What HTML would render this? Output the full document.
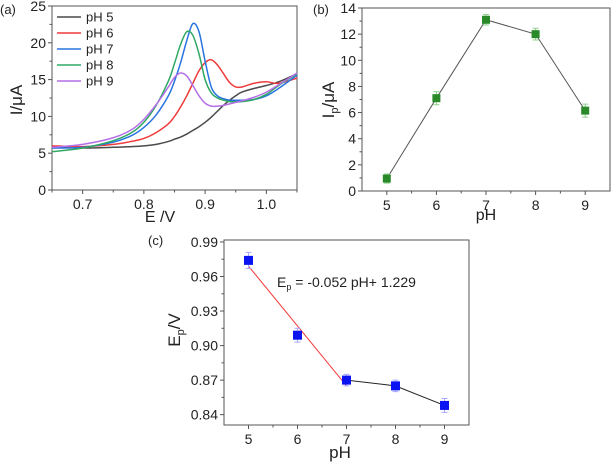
<!DOCTYPE html>
<html><head><meta charset="utf-8"><style>
html,body{margin:0;padding:0;background:#fff;}
svg{display:block;font-family:"Liberation Sans",Arial,sans-serif;}
</style></head><body>
<svg id="fig" width="615" height="463" viewBox="0 0 615 463" xmlns="http://www.w3.org/2000/svg"></svg>
<script>
// ---- Panel (a) data ----
const aPotential = [0.65,0.70,0.75,0.78,0.80,0.82,0.84,0.85,0.86,0.87,0.88,0.89,0.90,0.91,0.92,0.93,0.94,0.95,0.96,0.98,1.00,1.02,1.05];
const aPH5 = [5.8,5.7,5.8,5.9,6.0,6.2,6.6,6.9,7.2,7.6,8.1,8.6,9.2,9.9,10.7,11.5,12.2,12.8,13.3,13.8,14.2,14.7,15.8];
const aPH6 = [6.0,5.9,6.2,6.6,7.0,7.8,9.0,10.0,11.3,12.8,14.5,16.2,17.3,17.7,17.0,15.8,14.6,14.0,14.0,14.5,14.7,14.5,15.2];
const aPH7 = [5.7,5.8,6.5,7.4,8.5,10.2,12.8,14.8,17.3,20.3,22.6,21.5,17.5,14.0,12.8,12.4,12.2,12.2,12.2,12.3,12.8,13.8,15.6];
const aPH8 = [5.2,5.7,6.7,7.8,9.2,11.5,14.8,17.2,19.8,21.5,21.0,18.5,15.0,13.2,12.5,12.2,12.0,12.0,12.0,12.3,13.0,14.2,15.8];
const aPH9 = [5.8,6.2,7.1,8.2,9.6,11.6,14.0,15.3,15.9,15.5,14.2,12.8,11.8,11.4,11.4,11.5,11.7,11.9,12.1,12.6,13.3,14.3,15.9];
const aLegend = ["pH 5","pH 6","pH 7","pH 8","pH 9"];
const aXTicks = [0.7,0.8,0.9,1.0];
const aYTicks = [0,5,10,15,20,25];
// ---- Panel (b) data ----
const bPH = [5,6,7,8,9];
const bIp = [0.95,7.1,13.1,12.0,6.15];
const bErr = [0.35,0.5,0.4,0.45,0.5];
const bYTicks = [0,2,4,6,8,10,12,14];
// ---- Panel (c) data ----
const cPH = [5,6,7,8,9];
const cEp = [0.974,0.909,0.870,0.865,0.848];
const cErr = [0.007,0.006,0.005,0.005,0.006];
const cFitPH = [5,7];
const cSlope = -0.052, cIntercept = 1.229;
const cYTicks = [0.84,0.87,0.90,0.93,0.96,0.99];
const pHTicks = [5,6,7,8,9];

const NS="http://www.w3.org/2000/svg";
const svg=document.getElementById('fig');
function mk(tag,attrs,parent){const e=document.createElementNS(NS,tag);for(const k in attrs)e.setAttribute(k,attrs[k]);(parent||svg).appendChild(e);return e;}
function lin(d0,d1,r0,r1){return v=>r0+(v-d0)/(d1-d0)*(r1-r0);}
function fmt(v,dp){return v.toFixed(dp);}

function axes(g,box,xs,ys,xt,yt,xdp,ydp,xminor,yminor){
  const r=mk('rect',{x:box.l,y:box.t,width:box.r-box.l,height:box.b-box.t,fill:'none',stroke:'#555','stroke-width':1},g);
  
  const xa=mk('g',{},g);
  xt.forEach(v=>{const x=xs(v);
    mk('line',{x1:x,x2:x,y1:box.b,y2:box.b+4,stroke:'#555'},xa);
    const t=mk('text',{x:x,y:box.b+19,'font-size':14,'text-anchor':'middle',fill:'#222'},xa);t.textContent=fmt(v,xdp);
    });
  xminor.forEach(v=>{const x=xs(v);mk('line',{x1:x,x2:x,y1:box.b,y2:box.b+2.5,stroke:'#555'},xa);});
  const ya=mk('g',{},g);
  yt.forEach(v=>{const y=ys(v);
    mk('line',{x1:box.l-4,x2:box.l,y1:y,y2:y,stroke:'#555'},ya);
    const t=mk('text',{x:box.l-6,y:y+5,'font-size':14,'text-anchor':'end',fill:'#222'},ya);t.textContent=fmt(v,ydp);
    });
  yminor.forEach(v=>{const y=ys(v);mk('line',{x1:box.l-2.5,x2:box.l,y1:y,y2:y,stroke:'#555'},ya);});
}
function smoothPath(pts){
  let d=`M${pts[0][0]},${pts[0][1]}`;
  for(let i=0;i<pts.length-1;i++){
    const p0=pts[Math.max(0,i-1)],p1=pts[i],p2=pts[i+1],p3=pts[Math.min(pts.length-1,i+2)];
    const c1=[p1[0]+(p2[0]-p0[0])/6,p1[1]+(p2[1]-p0[1])/6];
    const c2=[p2[0]-(p3[0]-p1[0])/6,p2[1]-(p3[1]-p1[1])/6];
    d+=` C${c1[0]},${c1[1]} ${c2[0]},${c2[1]} ${p2[0]},${p2[1]}`;
  }
  return d;
}
function label(txt,x,y,size,name,extra){const t=mk('text',Object.assign({x:x,y:y,'font-size':size,fill:'#222'},extra||{}));t.innerHTML=txt;return t;}

// ===== Panel a =====
(function(){
  const g=mk('g',{});
  const box={l:52,r:297,t:6,b:190};
  const xs=lin(0.65,1.05,box.l,box.r), ys=lin(0,25,box.b,box.t);
  axes(g,box,xs,ys,aXTicks,aYTicks,1,0,[0.65,0.75,0.85,0.95,1.05],[2.5,7.5,12.5,17.5,22.5]);
  const series=[aPH5,aPH6,aPH7,aPH8,aPH9];
  const colors=['#4a4a4a','#f03a3a','#2874e0','#2fa864','#b46fe6'];
  const names=['curve-ph5','curve-ph6','curve-ph7','curve-ph8','curve-ph9'];
  series.forEach((s,i)=>{
    const p=mk('path',{d:smoothPath(aPotential.map((v,j)=>[xs(v),ys(s[j])])),fill:'none',stroke:colors[i],'stroke-width':1.5},g);
    
  });
  const lg=mk('g',{},g);
  aLegend.forEach((n,i)=>{
    const y=17+i*16;
    const e=mk('g',{},lg);
    mk('line',{x1:57,x2:81,y1:y,y2:y,stroke:colors[i],'stroke-width':1.5},e);
    const t=mk('text',{x:86,y:y+4.5,'font-size':13,fill:'#222'},e);t.textContent=n;
  });
  label('(a)',0,14,13,'panel-a-label');
  label('E /V',160,222,16,'x-axis-title',{'text-anchor':'middle'});
  label('I/μA',22,100,17,'y-axis-title',{'text-anchor':'middle',transform:'rotate(-90 22 100)'});
})();

// ===== Panel b =====
(function(){
  const g=mk('g',{});
  const box={l:362,r:610,t:8,b:191};
  const xs=lin(4.5,9.5,box.l,box.r), ys=lin(0,14,box.b,box.t);
  axes(g,box,xs,ys,pHTicks,bYTicks,0,0,[5.5,6.5,7.5,8.5],[1,3,5,7,9,11,13]);
  const ln=mk('polyline',{points:bPH.map((v,i)=>xs(v)+','+ys(bIp[i])).join(' '),fill:'none',stroke:'#555','stroke-width':1},g);
  
  bPH.forEach((v,i)=>{
    const x=xs(v),y=ys(bIp[i]);
    const eb=mk('path',{d:`M${x},${ys(bIp[i]+bErr[i])}V${ys(bIp[i]-bErr[i])}M${x-3},${ys(bIp[i]+bErr[i])}h6M${x-3},${ys(bIp[i]-bErr[i])}h6`,stroke:'#8fd08f','stroke-width':1,fill:'none'},g);
    
    const m=mk('rect',{x:x-4,y:y-4,width:8,height:8,fill:'#2a8a2a'},g);
    
  });
  label('(b)',313,14,13,'panel-b-label');
  label('pH',486,220,16,'x-axis-title',{'text-anchor':'middle'});
  label('I<tspan font-size="11" dy="4">p</tspan><tspan dy="-4">/μA</tspan>',334,100,17,'y-axis-title',{'text-anchor':'middle',transform:'rotate(-90 334 100)'});
})();

// ===== Panel c =====
(function(){
  const g=mk('g',{});
  const box={l:224,r:469,t:240,b:425};
  const xs=lin(4.5,9.5,box.l,box.r), ys=lin(0.831,0.9917,box.b,box.t);
  axes(g,box,xs,ys,pHTicks,cYTicks,0,2,[5.5,6.5,7.5,8.5],[0.855,0.885,0.915,0.945,0.975]);
  const seg=mk('polyline',{points:cPH.slice(2).map((v,i)=>xs(v)+','+ys(cEp[i+2])).join(' '),fill:'none',stroke:'#222','stroke-width':1},g);
  
  const fit=mk('line',{x1:xs(cFitPH[0]),y1:ys(cSlope*cFitPH[0]+cIntercept),x2:xs(cFitPH[1]),y2:ys(cSlope*cFitPH[1]+cIntercept),stroke:'#f03a3a','stroke-width':1},g);
  
  cPH.forEach((v,i)=>{
    const x=xs(v),y=ys(cEp[i]);
    const eb=mk('path',{d:`M${x},${ys(cEp[i]+cErr[i])}V${ys(cEp[i]-cErr[i])}M${x-3},${ys(cEp[i]+cErr[i])}h6M${x-3},${ys(cEp[i]-cErr[i])}h6`,stroke:'#a8a8ff','stroke-width':1,fill:'none'},g);
    
    const m=mk('rect',{x:x-4.5,y:y-4.5,width:9,height:9,fill:'#0a14f0'},g);
    
  });
  label('E<tspan font-size="9" dy="3">p</tspan><tspan dy="-3"> = -0.052 pH+ 1.229</tspan>',277,287,14,'fit-equation');
  label('(c)',148,245,13,'panel-c-label');
  label('pH',340,458,17,'x-axis-title',{'text-anchor':'middle'});
  label('E<tspan font-size="11" dy="4">p</tspan><tspan dy="-4">/V</tspan>',180,330,17,'y-axis-title',{'text-anchor':'middle',transform:'rotate(-90 180 330)'});
})();
</script>
</body></html>
